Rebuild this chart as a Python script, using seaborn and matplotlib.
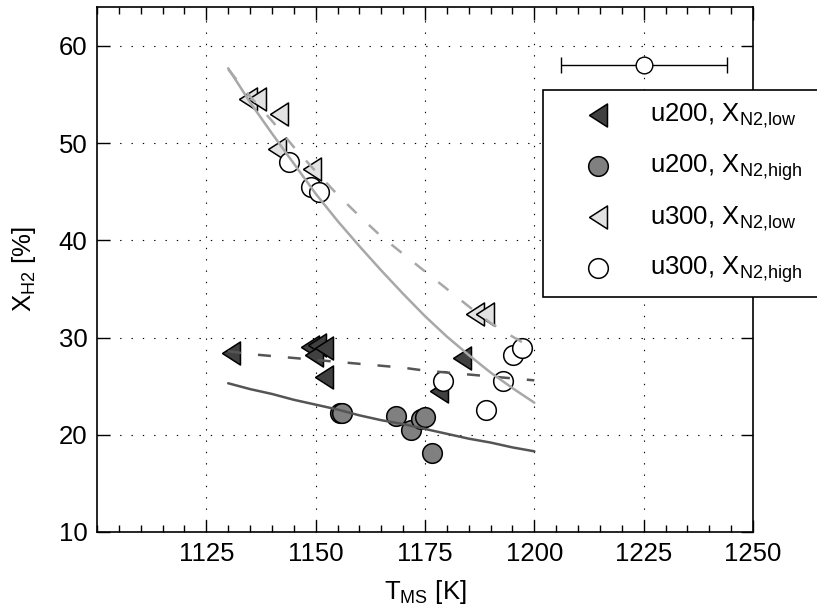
import matplotlib
matplotlib.use("Agg")
import matplotlib.pyplot as plt
from matplotlib.ticker import MultipleLocator, FixedLocator
import numpy as np
import pandas as pd
import seaborn as sns

# Measured mole fractions of H2 vs. temperature
u200_low_T = [1130.6, 1148.6, 1150.2, 1149.6, 1151.8, 1151.8, 1183.5, 1178.3]
u200_low_X = [28.4, 29.0, 29.2, 28.2, 28.9, 25.9, 27.9, 24.5]

u200_high_T = [1155.5, 1156.0, 1168.3, 1171.8, 1174.0, 1175.0, 1176.5]
u200_high_X = [22.2, 22.2, 21.9, 20.5, 21.6, 21.8, 18.1]

u300_low_T = [1134.5, 1136.6, 1141.6, 1141.2, 1149.2, 1186.4, 1188.7]
u300_low_X = [54.5, 54.5, 53.0, 49.4, 47.3, 32.4, 32.4]

u300_high_T = [1143.9, 1148.9, 1150.8, 1179.2, 1188.9, 1192.9, 1195.2, 1197.1]
u300_high_X = [48.1, 45.5, 45.0, 25.5, 22.6, 25.5, 28.2, 28.9]

# Model curves
fit_T = [1130, 1135, 1140, 1145, 1150, 1155, 1160, 1165, 1170, 1175,
         1180, 1185, 1190, 1195, 1200]
fit_u200_low = [28.6, 28.3, 28.1, 27.9, 27.7, 27.5, 27.3, 27.1, 26.9, 26.6,
                26.4, 26.2, 26.0, 25.8, 25.6]
fit_u200_high = [25.3, 24.7, 24.2, 23.6, 23.1, 22.6, 22.0, 21.5, 21.1, 20.6,
                 20.1, 19.6, 19.2, 18.7, 18.3]
fit_u300_low = [57.6, 54.8, 52.3, 49.6, 47.1, 44.7, 42.5, 40.4, 38.6, 36.8,
                35.0, 33.2, 31.5, 30.1, 28.8]
fit_u300_high = [57.7, 54.2, 51.0, 47.9, 44.8, 42.0, 39.4, 36.9, 34.5, 32.2,
                 30.1, 28.2, 26.4, 24.8, 23.3]

# Typical uncertainty of the temperature measurement
err_T = [1225]
err_X = [58]
err_dT = [19]

x_ticks = [1125, 1150, 1175, 1200, 1225, 1250]
y_ticks = [10, 20, 30, 40, 50, 60]

labels = [r"u200, X$_{N2{,}low}$", r"u200, X$_{N2{,}high}$",
          r"u300, X$_{N2{,}low}$", r"u300, X$_{N2{,}high}$"]

sns.set_style("white")
plt.rcParams["font.family"] = ["Liberation Sans", "DejaVu Sans"]
plt.rcParams["mathtext.fontset"] = "custom"
plt.rcParams["mathtext.rm"] = "Liberation Sans"
plt.rcParams["mathtext.it"] = "Liberation Sans"
plt.rcParams["mathtext.default"] = "regular"
plt.rcParams["text.color"] = "black"
plt.rcParams["axes.labelcolor"] = "black"
plt.rcParams["xtick.color"] = "black"
plt.rcParams["ytick.color"] = "black"

FS = 18.5

fig = plt.figure(figsize=(8.17, 6.11), dpi=100)
ax = fig.add_axes([0.1187, 0.1293, 0.803, 0.8592])

# left-pointing triangle, taller than wide, closed outline
tri = [(-0.78, 0.0), (0.78, 1.0), (0.78, -1.0), (-0.78, 0.0)]

scatter_sets = [
    (u200_low_T, u200_low_X, tri, "#404040", 275),
    (u200_high_T, u200_high_X, "o", "#808080", 200),
    (u300_low_T, u300_low_X, tri, "#e2e2e2", 275),
    (u300_high_T, u300_high_X, "o", "white", 200),
]
for (T, X, mk, col, sz), lab in zip(scatter_sets, labels):
    df = pd.DataFrame({"T": T, "X": X})
    sns.scatterplot(data=df, x="T", y="X", marker=mk, color=col, s=sz,
                    edgecolor="black", linewidth=1.1, ax=ax, label=lab,
                    zorder=3)

fit_df = pd.DataFrame({"T": fit_T, "u200_low": fit_u200_low,
                       "u200_high": fit_u200_high, "u300_low": fit_u300_low,
                       "u300_high": fit_u300_high})
dash = (0, (5.2, 6.8))
line_sets = [
    ("u200_low", "#555555", dash),
    ("u200_high", "#555555", "-"),
    ("u300_low", "#a8a8a8", dash),
    ("u300_high", "#a8a8a8", "-"),
]
for col, c, ls in line_sets:
    sns.lineplot(data=fit_df, x="T", y=col, color=c, linestyle=ls,
                 linewidth=1.8, ax=ax, zorder=4, legend=False)

ax.errorbar(err_T, err_X, xerr=err_dT, fmt="o", mfc="white", mec="black",
            ms=12, mew=1.0, ecolor="black", elinewidth=1.0, capsize=6,
            capthick=1.0, zorder=5)

ax.set_xlim(1100, 1250)
ax.set_ylim(10, 64)
ax.xaxis.set_major_locator(FixedLocator(x_ticks))
ax.xaxis.set_minor_locator(MultipleLocator(5))
ax.yaxis.set_major_locator(FixedLocator(y_ticks))
ax.tick_params(which="both", direction="in", top=True, right=True,
               bottom=True, left=True, labelsize=FS, color="black",
               labelcolor="black", width=1.0, pad=7)
ax.tick_params(which="major", length=9)
ax.tick_params(which="minor", length=5)
ax.tick_params(axis="y", which="minor", left=False, right=False)

ax.grid(True, which="major", color="black", linestyle=(0, (1.2, 9)),
        linewidth=0.8)
for sp in ax.spines.values():
    sp.set_color("black")
    sp.set_linewidth(1.2)

ax.set_xlabel(r"T$_{MS}$ [K]", fontsize=FS, labelpad=9)
ax.set_ylabel(r"X$_{H2}$ [%]", fontsize=FS, labelpad=15)

leg = ax.legend(loc="upper left",
                bbox_to_anchor=(543 / 817, 1 - 296 / 611, 290 / 817, 206 / 611),
                bbox_transform=fig.transFigure, mode="expand",
                fontsize=FS, frameon=True,
                fancybox=False, edgecolor="black", framealpha=1,
                borderpad=0.45, handlelength=3.4, handletextpad=0.3,
                labelspacing=0.85, borderaxespad=0)
leg.get_frame().set_linewidth(1.2)
leg.set_zorder(10)

fig.savefig("out.png", dpi=100)
